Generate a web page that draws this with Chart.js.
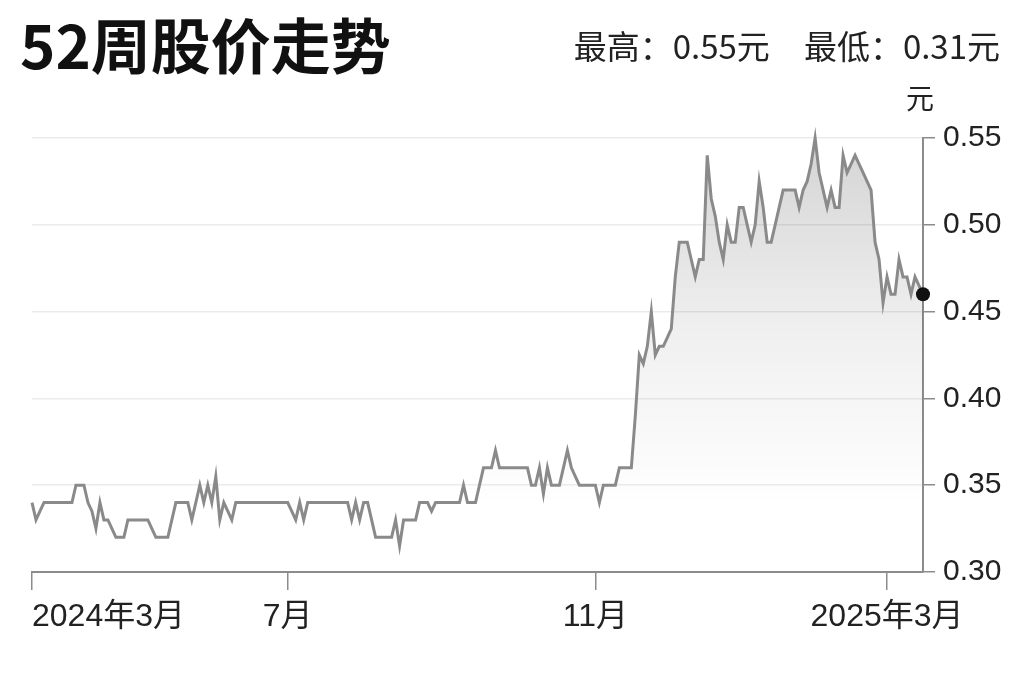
<!DOCTYPE html>
<html>
<head>
<meta charset="utf-8">
<script src="https://cdn.jsdelivr.net/npm/chart.js@4.4.1/dist/chart.umd.min.js"></script>
<style>
  body { margin: 0; background: #fff; }
  #wrap { position: relative; width: 1024px; height: 682px; overflow: hidden; }
  #wrap canvas { position: absolute; left: 0; top: 0; }
  .title { position: absolute; left: 20px; top: 13px; font: 700 60px/60px "Noto Sans CJK SC", sans-serif; color: #111; }
  .stats { position: absolute; right: 24px; top: 25px; font: 400 33px/40px "Noto Sans CJK SC", sans-serif; color: #222; }
  .stats span + span { margin-left: 34px; }
  .unit { position: absolute; left: 906px; top: 82px; font: 400 28px/30px "Noto Sans CJK SC", sans-serif; color: #222; }
</style>
</head>
<body>
<div id="wrap">
  <canvas id="priceChart" width="1024" height="682"></canvas>
  <div class="title">52周股价走势</div>
  <div class="stats"><span>最高：0.55元</span><span>最低：0.31元</span></div>
  <div class="unit">元</div>
</div>
<script>
// daily close (元)
const prices = [
  0.34, 0.33, 0.335, 0.34, 0.34, 0.34, 0.34, 0.34, 0.34, 0.34,
  0.34, 0.35, 0.35, 0.35, 0.34, 0.335, 0.325, 0.34, 0.33, 0.33,
  0.325, 0.32, 0.32, 0.32, 0.33, 0.33, 0.33, 0.33, 0.33, 0.33,
  0.325, 0.32, 0.32, 0.32, 0.32, 0.33, 0.34, 0.34, 0.34, 0.34,
  0.33, 0.34, 0.35, 0.34, 0.35, 0.34, 0.355, 0.33, 0.34, 0.335,
  0.33, 0.34, 0.34, 0.34, 0.34, 0.34, 0.34, 0.34, 0.34, 0.34,
  0.34, 0.34, 0.34, 0.34, 0.34, 0.335, 0.33, 0.34, 0.33, 0.34,
  0.34, 0.34, 0.34, 0.34, 0.34, 0.34, 0.34, 0.34, 0.34, 0.34,
  0.33, 0.34, 0.33, 0.34, 0.34, 0.33, 0.32, 0.32, 0.32, 0.32,
  0.32, 0.33, 0.315, 0.33, 0.33, 0.33, 0.33, 0.34, 0.34, 0.34,
  0.335, 0.34, 0.34, 0.34, 0.34, 0.34, 0.34, 0.34, 0.35, 0.34,
  0.34, 0.34, 0.35, 0.36, 0.36, 0.36, 0.37, 0.36, 0.36, 0.36,
  0.36, 0.36, 0.36, 0.36, 0.36, 0.35, 0.35, 0.36, 0.345, 0.36,
  0.35, 0.35, 0.35, 0.36, 0.37, 0.36, 0.355, 0.35, 0.35, 0.35,
  0.35, 0.35, 0.34, 0.35, 0.35, 0.35, 0.35, 0.36, 0.36, 0.36,
  0.36, 0.39, 0.425, 0.42, 0.43, 0.45, 0.425, 0.43, 0.43, 0.435,
  0.44, 0.47, 0.49, 0.49, 0.49, 0.48, 0.47, 0.48, 0.48, 0.54,
  0.515, 0.505, 0.49, 0.48, 0.50, 0.49, 0.49, 0.51, 0.51, 0.50,
  0.49, 0.50, 0.525, 0.51, 0.49, 0.49, 0.50, 0.51, 0.52, 0.52,
  0.52, 0.52, 0.51, 0.52, 0.525, 0.535, 0.55, 0.53, 0.52, 0.51,
  0.52, 0.51, 0.51, 0.54, 0.53, 0.535, 0.54, 0.535, 0.53, 0.525,
  0.52, 0.49, 0.48, 0.455, 0.47, 0.46, 0.46, 0.48, 0.47, 0.47,
  0.46, 0.47, 0.465, 0.46
];
const days = prices.map((p, i) => String(i));

// month labels and the day they sit on; the last entry is an empty end tick
const tickIndex = [0, 64, 141, 214, prices.length - 1];
const tickText = ['2024年3月', '7月', '11月', '2025年3月', ''];
const tickMarkColor = ['#8c8c8c', '#8c8c8c', '#8c8c8c', '#8c8c8c', 'rgba(0,0,0,0)'];

const yTicks = [0.30, 0.35, 0.40, 0.45, 0.50, 0.55];

const fontFamily = '"Liberation Sans", "Noto Sans CJK SC", sans-serif';
const ctx = document.getElementById('priceChart');

new Chart(ctx, {
    type: 'line',
    data: {
        labels: days,
        datasets: [{
            data: prices,
            borderColor: '#8a8a8a',
            borderWidth: 3,
            tension: 0,
            fill: 'start',
            clip: 12,
            backgroundColor: function (c) {
                const area = c.chart.chartArea;
                if (!area) return 'rgba(0,0,0,0.08)';
                const g = c.chart.ctx.createLinearGradient(0, area.top, 0, area.bottom);
                g.addColorStop(0, 'rgba(0,0,0,0.17)');
                g.addColorStop(0.45, 'rgba(0,0,0,0.06)');
                g.addColorStop(0.85, 'rgba(0,0,0,0)');
                return g;
            },
            pointRadius: c => c.dataIndex === prices.length - 1 ? 7 : 0,
            pointHoverRadius: 0,
            pointBackgroundColor: '#111',
            pointBorderWidth: 0
        }]
    },
    options: {
        responsive: false,
        animation: false,
        layout: { padding: { top: 138, left: 32, right: 0, bottom: 0 } },
        plugins: {
            legend: { display: false },
            tooltip: { enabled: false }
        },
        scales: {
            x: {
                type: 'category',
                afterBuildTicks: s => { s.ticks = tickIndex.map(v => ({ value: v })); },
                grid: {
                    drawOnChartArea: false,
                    drawTicks: true,
                    tickLength: 18,
                    lineWidth: 1.5,
                    tickColor: tickMarkColor
                },
                border: { display: true, color: '#8c8c8c', width: 2 },
                ticks: {
                    autoSkip: false,
                    maxRotation: 0,
                    align: 'inner',
                    padding: 8,
                    color: '#222',
                    font: { size: 32, family: fontFamily },
                    callback: (v, i) => tickText[i]
                },
                afterFit: s => { s.height = 110; }
            },
            y: {
                position: 'right',
                min: yTicks[0],
                max: yTicks[yTicks.length - 1],
                afterBuildTicks: s => { s.ticks = yTicks.map(v => ({ value: v })); },
                grid: {
                    color: '#ebebeb',
                    lineWidth: 1.5,
                    drawTicks: true,
                    tickLength: 12,
                    tickColor: '#8c8c8c'
                },
                border: { display: true, color: '#8c8c8c', width: 2 },
                ticks: {
                    padding: 8,
                    color: '#222',
                    font: { size: 30, family: fontFamily },
                    callback: v => v.toFixed(2)
                },
                afterFit: s => { s.width = 101; }
            }
        }
    }
});
</script>
</body>
</html>
